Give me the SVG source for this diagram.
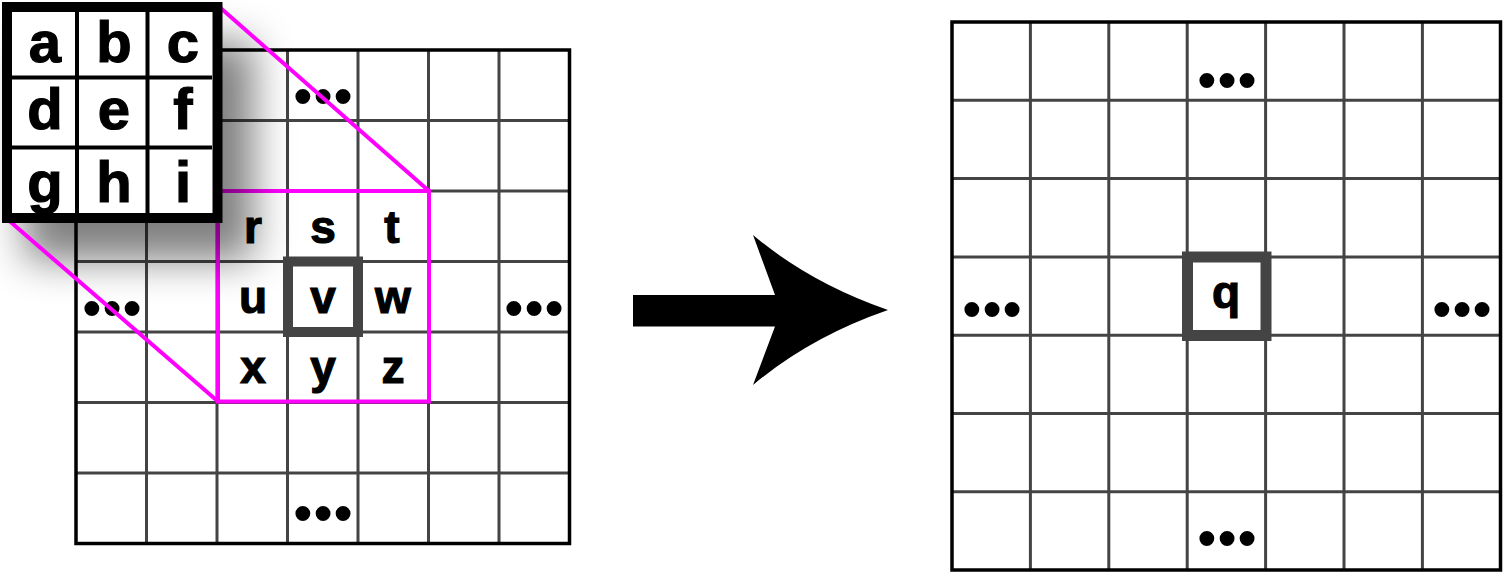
<svg xmlns="http://www.w3.org/2000/svg" width="1503" height="572" viewBox="0 0 1503 572">
<style>
.inner{stroke:#444;stroke-width:3;fill:none}
.outer{stroke:#000;stroke-width:3.5;fill:none}
.mag{stroke:#ff00ff;stroke-width:4;fill:none}
.lt{font-family:"Liberation Sans",Arial,sans-serif;font-weight:bold;fill:#000;stroke:#000;stroke-width:1.2;text-anchor:middle}
.k{font-size:58px}
.g{font-size:46px}
.dots{font-family:"Liberation Sans",Arial,sans-serif;font-weight:bold;font-size:52px;fill:#000;text-anchor:middle;dominant-baseline:central;letter-spacing:2px}
</style>
<defs>
<filter id="blur" x="-60%" y="-60%" width="220%" height="220%">
<feGaussianBlur stdDeviation="20"/>
</filter>
</defs>
<rect width="1503" height="572" fill="#fff"/>

<g id="input-grid">
<rect x="76" y="50" width="493.5" height="493.5" fill="#fff"/>
<path class="inner" d="M146.5 50V543.5M217 50V543.5M287.5 50V543.5M358 50V543.5M428.5 50V543.5M499 50V543.5M76 120.5H569.5M76 191H569.5M76 261.5H569.5M76 332H569.5M76 402.5H569.5M76 473H569.5"/>
<rect class="outer" x="76" y="50" width="493.5" height="493.5"/>
<text class="dots" x="324" y="96">•••</text>
<text class="dots" x="113" y="308">•••</text>
<text class="dots" x="535" y="308">•••</text>
<text class="dots" x="324" y="513">•••</text>
</g>

<g id="input-patch">
<rect class="mag" x="218" y="191" width="211" height="210.5"/>
<rect x="288" y="261.5" width="70" height="70.5" fill="none" stroke="#444" stroke-width="10"/>
<text class="lt g" x="253" y="243">r</text>
<text class="lt g" x="323" y="243">s</text>
<text class="lt g" x="392" y="243">t</text>
<text class="lt g" x="253" y="313">u</text>
<text class="lt g" x="323" y="313">v</text>
<text class="lt g" x="393" y="313">w</text>
<text class="lt g" x="253" y="383">x</text>
<text class="lt g" x="323" y="383">y</text>
<text class="lt g" x="393" y="383">z</text>
</g>

<rect id="kernel-shadow" x="25" y="42" width="228" height="218" fill="#000" opacity="0.5" filter="url(#blur)"/>

<g id="connectors">
<line class="mag" x1="216" y1="4" x2="429" y2="191"/>
<line class="mag" x1="6" y1="218" x2="218" y2="401.5"/>
<path id="arrow" d="M633 295H775L753 235Q810 283 888 310Q810 337 753 385L775 326.5H633Z" fill="#000"/>
</g>

<g id="kernel">
<rect x="7" y="7" width="210.5" height="211" fill="#fff" stroke="#000" stroke-width="10"/>
<path d="M77 12V213M147.5 12V213M12 77.5H212M12 147.5H212" stroke="#000" stroke-width="4" fill="none"/>
<text class="lt k" x="45" y="62">a</text>
<text class="lt k" x="114" y="62">b</text>
<text class="lt k" x="183" y="62">c</text>
<text class="lt k" x="45" y="129">d</text>
<text class="lt k" x="114" y="129">e</text>
<text class="lt k" x="183" y="129">f</text>
<text class="lt k" x="45" y="202">g</text>
<text class="lt k" x="114" y="202">h</text>
<text class="lt k" x="183" y="202">i</text>
</g>

<g id="output-grid">
<path class="inner" d="M1030.4 22V570M1108.8 22V570M1187.2 22V570M1265.6 22V570M1344 22V570M1422.4 22V570M952 100.3H1500.5M952 178.6H1500.5M952 256.9H1500.5M952 335.2H1500.5M952 413.5H1500.5M952 491.8H1500.5"/>
<rect class="outer" x="952" y="22" width="548.5" height="548"/>
<text class="dots" x="1228" y="80">•••</text>
<text class="dots" x="993" y="309">•••</text>
<text class="dots" x="1463" y="309">•••</text>
<text class="dots" x="1228" y="538">•••</text>
</g>

<g id="output-cell">
<rect x="1187.5" y="257" width="78.5" height="78.5" fill="none" stroke="#444" stroke-width="11"/>
<text class="lt g" x="1226" y="308">q</text>
</g>
</svg>
